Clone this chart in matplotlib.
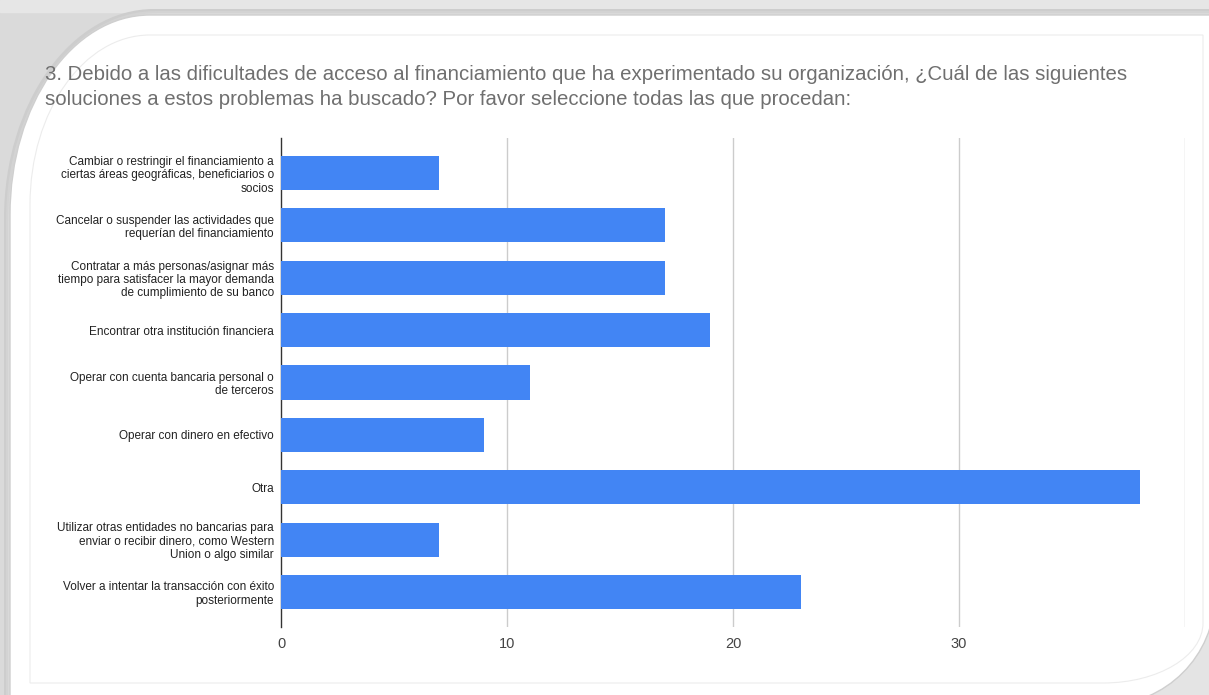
import numpy as np
import matplotlib
matplotlib.use("Agg")
from matplotlib import pyplot as plt
from matplotlib.path import Path
from matplotlib.patches import PathPatch

plt.rcParams['font.family'] = ['Liberation Sans', 'DejaVu Sans']

# data
categories = [
    "Cambiar o restringir el financiamiento a\nciertas áreas geográficas, beneficiarios o\nsocios",
    "Cancelar o suspender las actividades que\nrequerían del financiamiento",
    "Contratar a más personas/asignar más\ntiempo para satisfacer la mayor demanda\nde cumplimiento de su banco",
    "Encontrar otra institución financiera",
    "Operar con cuenta bancaria personal o\nde terceros",
    "Operar con dinero en efectivo",
    "Otra",
    "Utilizar otras entidades no bancarias para\nenviar o recibir dinero, como Western\nUnion o algo similar",
    "Volver a intentar la transacción con éxito\nposteriormente",
]
counts = [7, 17, 17, 19, 11, 9, 38, 7, 23]
x_ticks = [0, 10, 20, 30]
title = ("3. Debido a las dificultades de acceso al financiamiento que ha experimentado su organización, ¿Cuál de las siguientes\n"
         "soluciones a estos problemas ha buscado? Por favor seleccione todas las que procedan:")

W, H = 1209, 695
fig = plt.figure(figsize=(W / 100, H / 100), dpi=100)

# ---- decorative card background (pixel coords) ----
bg = fig.add_axes([0, 0, 1, 1], zorder=0)
bg.set_xlim(0, W)
bg.set_ylim(H, 0)
bg.axis('off')
bg.add_patch(plt.Rectangle((0, 0), W, H, color='#dadada', zorder=0))
bg.add_patch(plt.Rectangle((0, 0), W, 12, color='#e6e6e6', zorder=0))
bg.add_patch(plt.Rectangle((1100, 600), 110, 95, color='#e4e4e4', zorder=0))

k = 0.5523


def card_path(x0, y0, x1, y1, rx, ry, rx2, ry2):
    verts = [(x0, y1), (x0, y0 + ry),
             (x0, y0 + ry - k * ry), (x0 + rx - k * rx, y0), (x0 + rx, y0),
             (x1, y0), (x1, y1 - ry2),
             (x1, y1 - ry2 + k * ry2), (x1 - rx2 + k * rx2, y1), (x1 - rx2, y1),
             (x0, y1)]
    codes = [Path.MOVETO, Path.LINETO,
             Path.CURVE4, Path.CURVE4, Path.CURVE4,
             Path.LINETO, Path.LINETO,
             Path.CURVE4, Path.CURVE4, Path.CURVE4,
             Path.CLOSEPOLY]
    return Path(verts, codes)


# soft shadow behind the top-left corner
for i, c in enumerate(['#cdcdcd', '#d3d3d3', '#d9d9d9']):
    bg.add_patch(PathPatch(card_path(4 + 2 * i, 9 + 2 * i, 1215, 705, 150, 210, 110, 110),
                           facecolor=c, edgecolor='none', zorder=0.5))
bg.add_patch(PathPatch(card_path(10, 15, 1215, 705, 140, 200, 110, 110),
                       facecolor='white', edgecolor='#cfcfcf', lw=1, zorder=1))
bg.add_patch(PathPatch(card_path(30, 35, 1203, 683, 120, 170, 100, 60),
                       facecolor='white', edgecolor='#ececec', lw=0.8, zorder=2))

# ---- chart ----
ax = fig.add_axes([281 / W, 1 - 627 / H, (1185 - 281) / W, (627 - 138) / H], zorder=3)
ax.patch.set_alpha(0)
y = np.arange(len(categories))
ax.barh(y, counts, height=0.65, color='#4285f4', zorder=3)
ax.set_ylim(len(categories) - 1 + 0.67, -0.67)
ax.set_xlim(0, 40)
ax.set_xticks(x_ticks)
ax.set_xticklabels([str(t) for t in x_ticks], fontsize=10.5, color='#444444')
for gx in [10, 20, 30, 40]:
    ax.axvline(gx, color='#cccccc', lw=1, zorder=1)
ax.set_yticks(y)
ax.set_yticklabels(categories, fontsize=8.5, color='#222222', linespacing=1.15)
ax.tick_params(axis='both', length=0)
ax.tick_params(axis='y', pad=5)
ax.tick_params(axis='x', pad=7)
for s in ['top', 'right', 'bottom']:
    ax.spines[s].set_visible(False)
ax.spines['left'].set_color('#333333')
ax.spines['left'].set_linewidth(1)

fig.text(45 / W, 1 - 65 / H, title, fontsize=14.7, color='#6f6f6f',
         ha='left', va='top', linespacing=1.42, zorder=4)

fig.savefig('out.png', dpi=100)
